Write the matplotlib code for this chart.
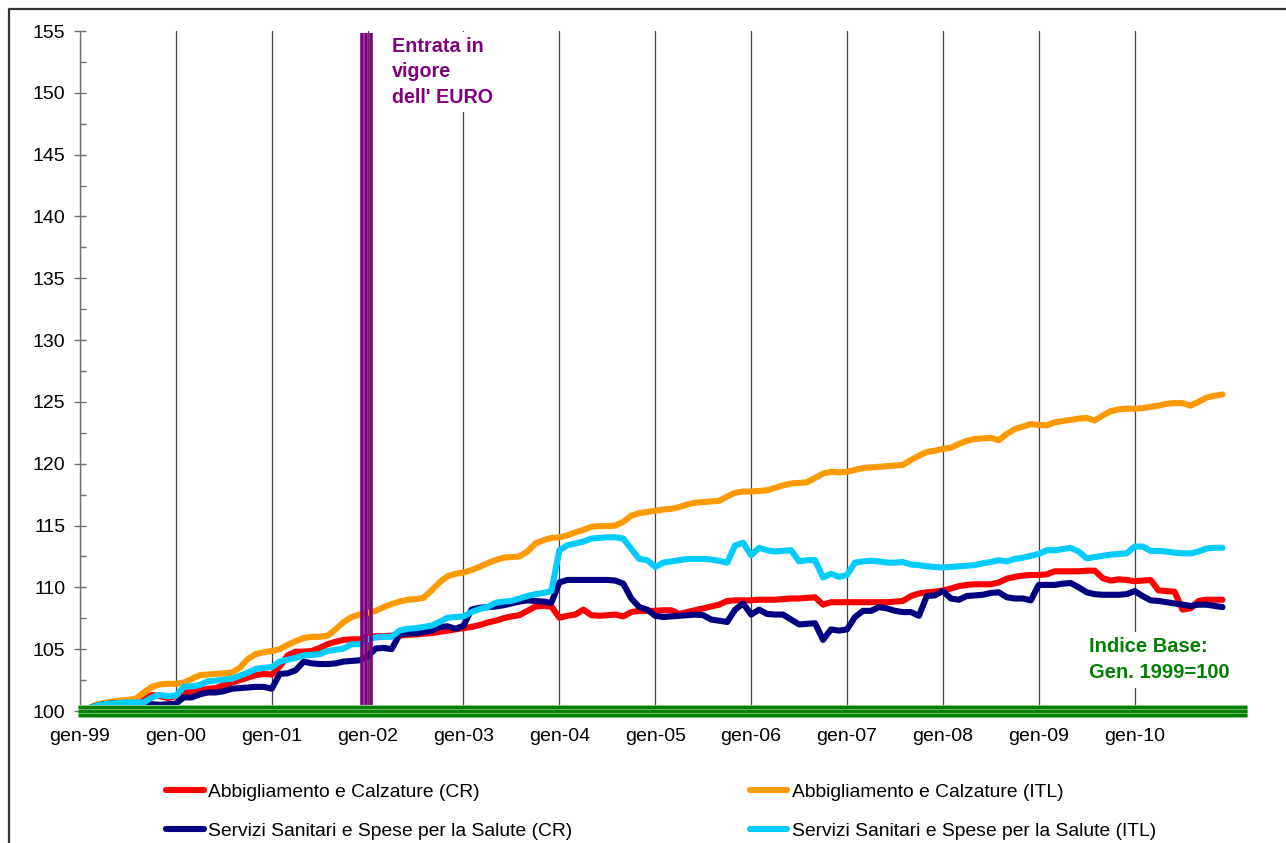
import matplotlib
matplotlib.use("Agg")
import matplotlib.pyplot as plt
from matplotlib.lines import Line2D
from matplotlib.ticker import MultipleLocator, FixedLocator
import numpy as np

plt.rcParams['font.family'] = ['Liberation Sans', 'DejaVu Sans']

tick_labels = ['gen-99', 'gen-00', 'gen-01', 'gen-02', 'gen-03', 'gen-04',
               'gen-05', 'gen-06', 'gen-07', 'gen-08', 'gen-09', 'gen-10']

labels = ['Abbigliamento e Calzature (CR)', 'Abbigliamento e Calzature (ITL)',
          'Servizi Sanitari e Spese per la Salute (CR)', 'Servizi Sanitari e Spese per la Salute (ITL)']

abb_cr = [
    100.0, 100.0, 100.05, 100.1, 100.2, 100.3, 100.4, 100.6, 100.9, 101.3, 101.2, 101.05,
    101.2, 101.5, 101.6, 101.65, 101.8, 101.85, 102.1, 102.3, 102.5, 102.7, 102.9, 103.0,
    102.95, 103.6, 104.5, 104.8, 104.8, 104.85, 105.1, 105.4, 105.6, 105.75, 105.8, 105.8,
    106.0, 106.05, 106.05, 106.1, 106.1, 106.15, 106.2, 106.25, 106.3, 106.4, 106.5, 106.6,
    106.7, 106.8, 106.95, 107.15, 107.3, 107.5, 107.65, 107.75, 108.1, 108.45, 108.5, 108.45,
    107.55, 107.7, 107.8, 108.2, 107.75, 107.7, 107.75, 107.8, 107.65, 108.0, 108.1, 108.1,
    108.1, 108.15, 108.15, 107.85, 108.0, 108.15, 108.3, 108.45, 108.6, 108.9, 108.95, 108.95,
    108.95, 109.0, 109.0, 109.0, 109.05, 109.1, 109.1, 109.15, 109.2, 108.6, 108.8, 108.8,
    108.8, 108.8, 108.8, 108.8, 108.8, 108.8, 108.85, 108.9, 109.3, 109.5, 109.6, 109.65,
    109.75, 109.9, 110.1, 110.2, 110.25, 110.25, 110.25, 110.4, 110.7, 110.85, 110.95, 111.0,
    111.0, 111.05, 111.3, 111.3, 111.3, 111.3, 111.35, 111.35, 110.75, 110.55, 110.65, 110.6,
    110.5, 110.55, 110.6, 109.75, 109.7, 109.65, 108.2, 108.3, 108.9, 109.0, 109.0, 109.0,
]

abb_itl = [
    100.0, 100.2, 100.5, 100.65, 100.75, 100.85, 100.9, 101.0, 101.5, 101.95, 102.15, 102.2,
    102.2, 102.3, 102.6, 102.9, 102.95, 103.0, 103.05, 103.1, 103.5, 104.2, 104.6, 104.75,
    104.85, 105.0, 105.35, 105.65, 105.9, 106.0, 106.0, 106.1, 106.6, 107.2, 107.6, 107.8,
    107.95, 108.1, 108.4, 108.65, 108.85, 109.0, 109.05, 109.15, 109.75, 110.4, 110.9, 111.1,
    111.2, 111.4, 111.65, 111.95, 112.2, 112.4, 112.45, 112.5, 112.9, 113.55, 113.8, 114.0,
    114.05, 114.2, 114.45, 114.65, 114.9, 114.95, 114.95, 115.0, 115.3, 115.8, 116.0, 116.1,
    116.2, 116.3, 116.35, 116.5, 116.7, 116.85, 116.9, 116.95, 117.0, 117.35, 117.65, 117.75,
    117.75, 117.8, 117.85, 118.05, 118.25, 118.4, 118.45, 118.5, 118.85, 119.2, 119.35, 119.3,
    119.35, 119.5, 119.65, 119.7, 119.75, 119.8, 119.85, 119.9, 120.3, 120.65, 120.95, 121.05,
    121.2, 121.3, 121.6, 121.85, 122.0, 122.05, 122.1, 121.9, 122.4, 122.8, 123.0, 123.2,
    123.15, 123.1, 123.35, 123.45, 123.55, 123.65, 123.7, 123.5, 123.9, 124.25, 124.4, 124.45,
    124.45, 124.5, 124.6, 124.7, 124.85, 124.9, 124.9, 124.7, 125.0, 125.35, 125.5, 125.6,
]

san_cr = [
    100.0, 100.2, 100.4, 100.55, 100.6, 100.6, 100.6, 100.6, 100.6, 100.55, 100.5, 100.55,
    100.6, 101.1, 101.1, 101.35, 101.5, 101.5, 101.6, 101.8, 101.85, 101.9, 101.95, 101.95,
    101.8, 103.0, 103.05, 103.3, 104.0, 103.85, 103.8, 103.8, 103.85, 104.0, 104.05, 104.1,
    104.4, 105.05, 105.1, 105.0, 106.2, 106.25, 106.3, 106.4, 106.5, 106.8, 106.85, 106.65,
    106.9, 108.2, 108.35, 108.4, 108.45, 108.55, 108.7, 108.85, 108.95, 108.9, 108.85, 108.75,
    110.4, 110.6, 110.6, 110.6, 110.6, 110.6, 110.6, 110.55, 110.3, 109.1, 108.4, 108.2,
    107.7, 107.6, 107.65, 107.7, 107.75, 107.8, 107.75, 107.4, 107.3, 107.2, 108.2, 108.7,
    107.8, 108.2, 107.85, 107.8, 107.8, 107.4, 107.0, 107.05, 107.1, 105.75, 106.6, 106.5,
    106.6, 107.6, 108.1, 108.1, 108.4, 108.3, 108.1, 108.0, 108.0, 107.7, 109.3, 109.35,
    109.7, 109.1, 109.0, 109.3, 109.35, 109.4, 109.55, 109.6, 109.2, 109.1, 109.1, 108.95,
    110.2, 110.2, 110.2, 110.3, 110.35, 110.0, 109.6, 109.45, 109.4, 109.4, 109.4, 109.45,
    109.7, 109.3, 108.95, 108.9, 108.8, 108.7, 108.6, 108.5, 108.6, 108.6, 108.5, 108.4,
]

san_itl = [
    100.0, 100.2, 100.4, 100.55, 100.6, 100.65, 100.7, 100.7, 100.7, 101.1, 101.3, 101.2,
    101.25, 101.95, 102.0, 102.1, 102.4, 102.45, 102.55, 102.6, 102.85, 103.1, 103.4, 103.5,
    103.55, 104.0, 104.15, 104.3, 104.5, 104.55, 104.6, 104.85, 104.95, 105.05, 105.4, 105.4,
    105.8, 105.95, 106.0, 106.0, 106.5, 106.65, 106.7, 106.8, 106.9, 107.2, 107.55, 107.6,
    107.65, 108.0, 108.25, 108.4, 108.75, 108.85, 108.9, 109.1, 109.3, 109.45, 109.55, 109.7,
    113.0, 113.4, 113.55, 113.7, 113.95, 114.0, 114.05, 114.05, 113.95, 113.1, 112.3, 112.2,
    111.65, 112.0, 112.1, 112.2, 112.3, 112.3, 112.3, 112.25, 112.15, 112.0, 113.4, 113.6,
    112.6, 113.2, 113.0, 112.9, 112.95, 113.0, 112.1, 112.2, 112.2, 110.8, 111.1, 110.85,
    111.0, 112.0, 112.1, 112.15, 112.1, 112.0, 112.0, 112.05, 111.85, 111.8, 111.7, 111.65,
    111.6, 111.65, 111.7, 111.75, 111.8, 111.95, 112.05, 112.2, 112.1, 112.3, 112.4, 112.55,
    112.7, 113.0, 113.0, 113.1, 113.2, 112.9, 112.35, 112.45, 112.55, 112.65, 112.7, 112.75,
    113.3, 113.3, 112.95, 112.95, 112.9, 112.8, 112.75, 112.75, 112.9, 113.15, 113.2, 113.2,
]

colors = ['#FF0000', '#FF9900', '#000080', '#00CCFF']
series = [abb_cr, abb_itl, san_cr, san_itl]

W, H = 1286, 843
fig = plt.figure(figsize=(W / 100, H / 100), dpi=100)
ax = fig.add_axes([80 / W, 1 - 711 / H, (1222 - 80) / W + 0.0035, (711 - 31) / H])

months = np.arange(len(abb_itl))
handles = []
for s, c, lab in zip(series, colors, labels):
    h, = ax.plot(months, s, color=c, lw=4.4, solid_joinstyle='round', solid_capstyle='round',
                 label=lab, zorder=3)
    handles.append(h)

ax.set_xlim(0, 143.5)
ax.set_ylim(100, 155)
ax.xaxis.set_major_locator(FixedLocator(np.arange(0, 144, 12)))
ax.set_xticklabels(tick_labels)
ax.xaxis.set_minor_locator(FixedLocator(np.arange(6, 144, 12)))
ax.yaxis.set_major_locator(MultipleLocator(5))
ax.yaxis.set_minor_locator(MultipleLocator(2.5))
ax.grid(axis='x', which='major', color='#404040', lw=0.9, zorder=1)
ax.set_axisbelow(True)

for sp in ['top', 'right', 'bottom']:
    ax.spines[sp].set_visible(False)
ax.spines['left'].set_color('#707070')
ax.spines['left'].set_linewidth(1.0)

ax.tick_params(axis='y', which='major', direction='inout', length=9, width=1.0, color='#707070',
               labelsize=14, pad=6)
ax.tick_params(axis='y', which='minor', direction='in', length=4.5, width=1.0, color='#707070')
ax.tick_params(axis='x', which='major', direction='inout', length=9, width=1.0, color='#707070',
               labelsize=14, pad=8)
ax.tick_params(axis='x', which='minor', direction='in', length=4.5, width=1.0, color='#707070')

# Euro introduction marker (purple triple line)
for xv in [35.3, 35.8, 36.4]:
    ax.plot([xv, xv], [99.6, 154.85], color='#800080', lw=2.6, clip_on=False, zorder=4,
            solid_capstyle='butt')

# Base index line (green triple line)
ax.plot([-0.3, 146.1], [100.0, 100.0], color='#9fd39f', lw=9.5, clip_on=False, zorder=5,
        solid_capstyle='butt')
for yv in [100.33, 100.0, 99.67]:
    ax.plot([-0.3, 146.1], [yv, yv], color='#008000', lw=2.4, clip_on=False, zorder=6,
            solid_capstyle='butt')

ax.text(39.0, 154.5, "Entrata in\nvigore\ndell' EURO", color='#800080', fontsize=14.2,
        fontweight='bold', va='top', ha='left', linespacing=1.42, zorder=7,
        bbox=dict(facecolor='white', edgecolor='none', pad=4))
ax.text(126.3, 105.95, "Indice Base:\nGen. 1999=100", color='#008000', fontsize=14.5,
        fontweight='bold', va='top', ha='left', linespacing=1.45, zorder=7,
        bbox=dict(facecolor='white', edgecolor='none', pad=4))

leg = fig.legend([handles[0], handles[2], handles[1], handles[3]],
                 [labels[0], labels[2], labels[1], labels[3]],
                 loc='upper left', bbox_to_anchor=(166 / W, 1 - 783 / H), ncol=2,
                 frameon=False, fontsize=13.9, handlelength=1.95, handletextpad=0.22,
                 columnspacing=9.2, labelspacing=1.12, borderpad=0, borderaxespad=0)

# outer chart frame
fig.add_artist(Line2D([8.5 / W, 8.5 / W, 1.0], [0.0, 1 - 8.5 / H, 1 - 8.5 / H],
                      transform=fig.transFigure, color='#333333', lw=1.6))

fig.savefig('out.png', dpi=100)
